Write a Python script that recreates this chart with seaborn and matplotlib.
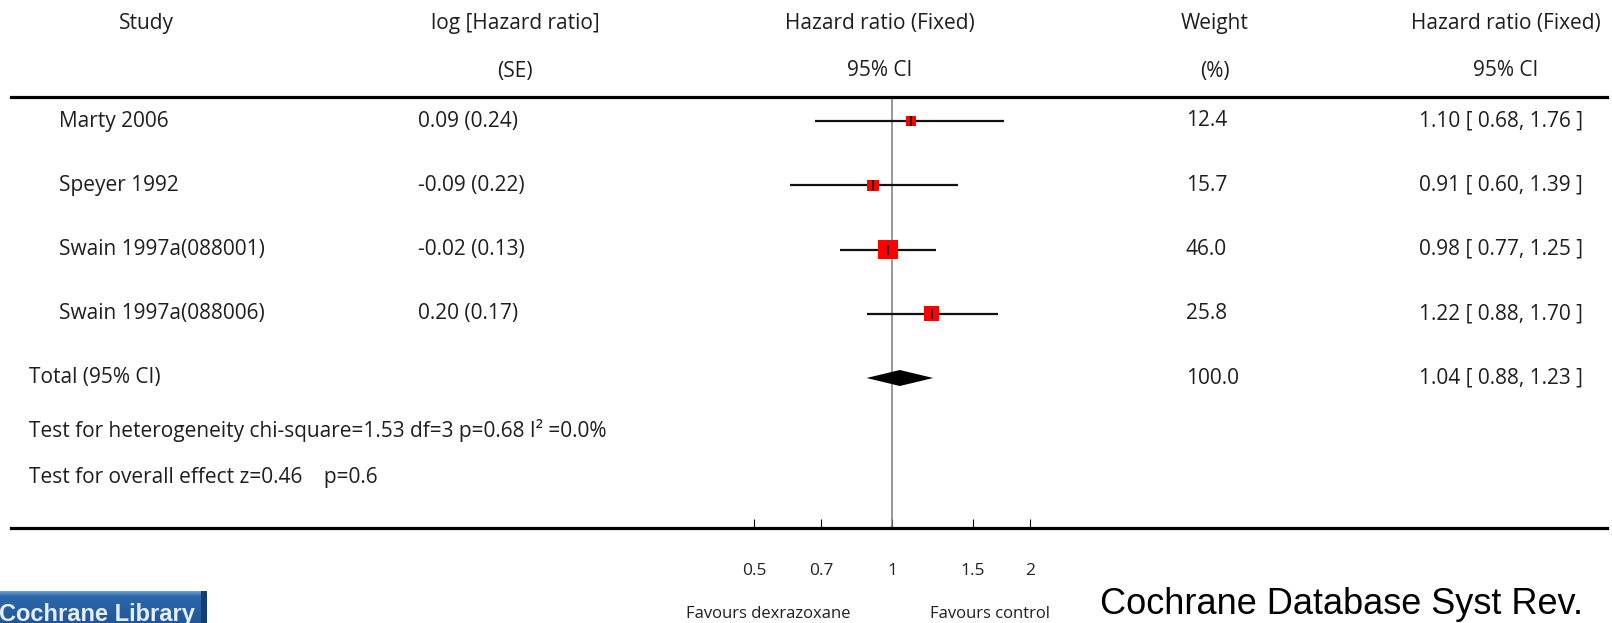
import numpy as np
import pandas as pd
import matplotlib
matplotlib.use("Agg")
import matplotlib.pyplot as plt
import seaborn as sns
from matplotlib.transforms import blended_transform_factory
from matplotlib.ticker import NullLocator

# ---- data -------------------------------------------------------------
studies = ["Marty 2006", "Speyer 1992", "Swain 1997a(088001)", "Swain 1997a(088006)"]
log_hr_se = ["0.09 (0.24)", "-0.09 (0.22)", "-0.02 (0.13)", "0.20 (0.17)"]
hr = [1.10, 0.91, 0.98, 1.22]
ci_low = [0.68, 0.60, 0.77, 0.88]
ci_high = [1.76, 1.39, 1.25, 1.70]
weights = [12.4, 15.7, 46.0, 25.8]

total_label = "Total (95% CI)"
total_hr = 1.04
total_low = 0.88
total_high = 1.23
total_weight = 100.0

heterogeneity = "Test for heterogeneity chi-square=1.53 df=3 p=0.68 I² =0.0%"
overall_effect = "Test for overall effect z=0.46    p=0.6"

tick_values = [0.5, 0.7, 1, 1.5, 2]
tick_labels = ["0.5", "0.7", "1", "1.5", "2"]
favours_left = "Favours dexrazoxane"
favours_right = "Favours control"
source_text = "Cochrane Database Syst Rev."
logo_text = "Cochrane Library"

# ---- figure -----------------------------------------------------------
sns.set_theme(style="white")
plt.rcParams["font.family"] = ["Open Sans", "DejaVu Sans"]

W, H = 1612, 623
fig = plt.figure(figsize=(W / 100, H / 100), dpi=100)
fig.patch.set_facecolor("white")


def fx(px):
    return px / W


def fy(py):
    return 1 - py / H


# forest axes spans the table width; its top/bottom spines are the rules
left_px, right_px, top_px, bottom_px = 11, 1607, 97, 528
null_px, px_per_ln = 892, 199.0
row0_px, row_pitch = 121, 64.25

ax = fig.add_axes([fx(left_px), fy(bottom_px), fx(right_px - left_px), (bottom_px - top_px) / H])
ax.set_xscale("log")
ax.set_xlim(np.exp((left_px - null_px) / px_per_ln), np.exp((right_px - null_px) / px_per_ln))
ax.set_ylim((bottom_px - row0_px) / row_pitch, (top_px - row0_px) / row_pitch)
ax.set_facecolor("none")

for side in ("left", "right"):
    ax.spines[side].set_visible(False)
for side in ("top", "bottom"):
    ax.spines[side].set_linewidth(2.3)
    ax.spines[side].set_color("black")

ax.set_yticks([])
ax.xaxis.set_minor_locator(NullLocator())
ax.set_xticks(tick_values, labels=tick_labels)
ax.tick_params(axis="x", which="major", direction="in", length=6.5, width=0.8,
               color="black", pad=25.5, labelsize=12.5, labelcolor="#222222",
               bottom=True, top=False)

# line of no effect
ax.axvline(1, color="#7a7a7a", lw=1.1, zorder=1)

df = pd.DataFrame({"study": studies, "hr": hr, "low": ci_low, "high": ci_high,
                   "weight": weights, "row": np.arange(len(studies))})

# confidence intervals
ax.hlines(df["row"], df["low"], df["high"], color="#111111", lw=1.6, zorder=2)

# study squares, area proportional to weight
k = 4.36
sns.scatterplot(data=df, x="hr", y="row", size="weight", marker="s", color="#ff0000",
                sizes=(k * min(weights), k * max(weights)),
                size_norm=(min(weights), max(weights)),
                linewidth=0, legend=False, ax=ax, zorder=3)
ax.plot(df["hr"], df["row"], linestyle="none", marker="|", markersize=7,
        markeredgewidth=1.2, color="black", zorder=4)

# pooled diamond
total_row = len(studies)
half_h = 8 / row_pitch
ax.fill([total_low, total_hr, total_high, total_hr],
        [total_row, total_row - half_h, total_row, total_row + half_h],
        color="black", lw=0, zorder=3)

ax.set_xlabel("")
ax.set_ylabel("")

# ---- table text ---------------------------------------------------------
fs = 15
tc = "#1e1e1e"
rows_tr = blended_transform_factory(fig.transFigure, ax.transData)

headers = [
    (146, "Study", None),
    (515, "log [Hazard ratio]", "(SE)"),
    (880, "Hazard ratio (Fixed)", "95% CI"),
    (1215, "Weight", "(%)"),
    (1506, "Hazard ratio (Fixed)", "95% CI"),
]
for cx, line1, line2 in headers:
    fig.text(fx(cx), fy(24), line1, ha="center", va="center", fontsize=fs, color=tc)
    if line2:
        fig.text(fx(cx), fy(71), line2, ha="center", va="center", fontsize=fs, color=tc)

for i, r in df.iterrows():
    fig.text(fx(59), r["row"], r["study"], transform=rows_tr, ha="left", va="center",
             fontsize=fs, color=tc)
    fig.text(fx(418), r["row"], log_hr_se[i], transform=rows_tr, ha="left", va="center",
             fontsize=fs, color=tc)
    fig.text(fx(1186), r["row"], f"{r['weight']:.1f}", transform=rows_tr, ha="left",
             va="center", fontsize=fs, color=tc)
    fig.text(fx(1583), r["row"], f"{r['hr']:.2f} [ {r['low']:.2f}, {r['high']:.2f} ]",
             transform=rows_tr, ha="right", va="center", fontsize=fs, color=tc)

fig.text(fx(29), total_row, total_label, transform=rows_tr, ha="left", va="center",
         fontsize=fs, color=tc)
fig.text(fx(1186), total_row, f"{total_weight:.1f}", transform=rows_tr, ha="left",
         va="center", fontsize=fs, color=tc)
fig.text(fx(1583), total_row, f"{total_hr:.2f} [ {total_low:.2f}, {total_high:.2f} ]",
         transform=rows_tr, ha="right", va="center", fontsize=fs, color=tc)

fig.text(fx(29), fy(431), heterogeneity, ha="left", va="center", fontsize=fs, color=tc)
fig.text(fx(29), fy(478), overall_effect, ha="left", va="center", fontsize=fs, color=tc)

# favours labels under the axis
fig.text(fx(768), fy(614), favours_left, ha="center", va="center", fontsize=12, color=tc)
fig.text(fx(990), fy(614), favours_right, ha="center", va="center", fontsize=12, color=tc)

# source citation
fig.text(fx(1100), fy(614), source_text, ha="left", va="baseline", fontsize=26,
         color="black", family=["Liberation Sans", "DejaVu Sans"])

# library badge in the lower-left corner
logo_w, logo_top = 207, 591
logo_ax = fig.add_axes([0, 0, fx(logo_w), (H - logo_top) / H])
rows_g = np.linspace(0, 1, 32)[:, None, None]
top_c = np.array([0.42, 0.62, 0.82])
mid_c = np.array([0.18, 0.42, 0.68])
low_c = np.array([0.13, 0.34, 0.60])
band = np.clip(rows_g / 0.15, 0, 1)
img = top_c * (1 - band) + (mid_c * (1 - rows_g) + low_c * rows_g) * band
img = np.repeat(img, logo_w, axis=1)
img[:, -6:, :] = [0.07, 0.25, 0.45]
logo_ax.imshow(img, aspect="auto", extent=(0, 1, 0, 1), interpolation="bilinear")
logo_ax.set_xlim(0, 1)
logo_ax.set_ylim(0, 1)
logo_ax.axis("off")
logo_ax.text(-0.005, 0.07, logo_text, ha="left", va="baseline", fontsize=17,
             fontweight="bold", color="#e6eef8",
             family=["Liberation Sans Narrow", "Liberation Sans", "DejaVu Sans"])

fig.savefig("out.png", dpi=100, facecolor="white")
